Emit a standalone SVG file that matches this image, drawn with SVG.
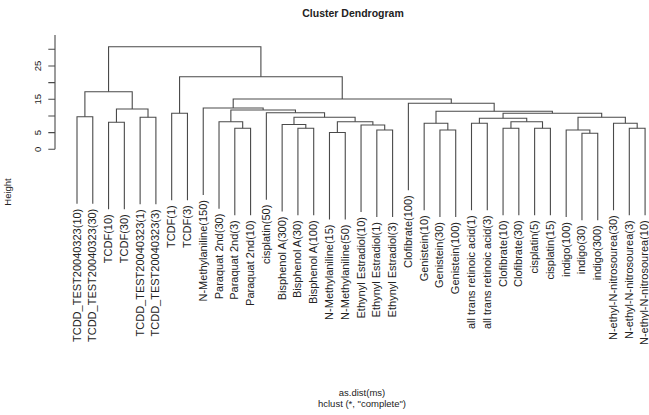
<svg xmlns="http://www.w3.org/2000/svg" width="649" height="415" viewBox="0 0 649 415">
<style>
.ln{fill:none;stroke:#4a4a4a;stroke-width:1.1}
.lb{font-family:"Liberation Sans",Arial,sans-serif;font-size:11px;fill:#222;text-anchor:end}
.ax{font-family:"Liberation Sans",Arial,sans-serif;font-size:9.5px;fill:#222;text-anchor:middle}
.tt{font-family:"Liberation Sans",Arial,sans-serif;font-size:10.5px;font-weight:bold;fill:#222;text-anchor:middle}
.sb{font-family:"Liberation Sans",Arial,sans-serif;font-size:9.5px;fill:#222;text-anchor:middle}
</style>
<rect width="649" height="415" fill="#fff"/>
<text class="tt" x="353" y="17">Cluster Dendrogram</text>
<g id="axis">
<path class="ln" d="M55 35 V149.3 M48.3 149.3 H55 M48.3 132.6 H55 M48.3 116 H55 M48.3 99.3 H55 M48.3 82.6 H55 M48.3 66 H55 M48.3 49.3 H55"/>
<text class="ax" transform="translate(41,149.3) rotate(-90)">0</text>
<text class="ax" transform="translate(41,132.6) rotate(-90)">5</text>
<text class="ax" transform="translate(41,99.3) rotate(-90)">15</text>
<text class="ax" transform="translate(41,66) rotate(-90)">25</text>
<text class="ax" transform="translate(11,192) rotate(-90)">Height</text>
</g>
<g id="connectors">
<path class="ln" d="M77 203.7 V116.7 H92.78 V203.7"/>
<path class="ln" d="M108.56 209.3 V122.3 H124.34 V209.3"/>
<path class="ln" d="M140.12 204.3 V117.3 H155.9 V204.3"/>
<path class="ln" d="M116.45 122.3 V109 H148.01 V117.3"/>
<path class="ln" d="M84.89 116.7 V91.7 H132.23 V109"/>
<path class="ln" d="M171.68 200.3 V113.3 H187.46 V200.3"/>
<path class="ln" d="M108.56 91.7 V46.7 H260.9 V76.7"/>
<path class="ln" d="M179.57 113.3 V76.7 H342.24 V99"/>
<path class="ln" d="M233.2 108 V99 H451.28 V103.3"/>
<path class="ln" d="M203.24 195 V108 H263.16 V110"/>
<path class="ln" d="M230.86 121.7 V110 H295.46 V112.7"/>
<path class="ln" d="M219.02 208.7 V121.7 H242.69 V128.3"/>
<path class="ln" d="M234.8 215.3 V128.3 H250.58 V215.3"/>
<path class="ln" d="M266.36 199.7 V112.7 H324.55 V117.3"/>
<path class="ln" d="M293.98 124.5 V117.3 H355.12 V121.7"/>
<path class="ln" d="M282.14 211.5 V124.5 H305.81 V128.3"/>
<path class="ln" d="M297.92 215.3 V128.3 H313.7 V215.3"/>
<path class="ln" d="M337.37 132.5 V121.7 H372.88 V125"/>
<path class="ln" d="M329.48 219.5 V132.5 H345.26 V219.5"/>
<path class="ln" d="M361.04 212 V125 H384.71 V130"/>
<path class="ln" d="M376.82 217 V130 H392.6 V217"/>
<path class="ln" d="M408.38 190.3 V103.3 H494.18 V111.3"/>
<path class="ln" d="M436 123.3 V111.3 H552.37 V113.3"/>
<path class="ln" d="M424.16 210.3 V123.3 H447.83 V130"/>
<path class="ln" d="M439.94 217 V130 H455.72 V217"/>
<path class="ln" d="M503.06 118.3 V113.3 H601.69 V117.3"/>
<path class="ln" d="M479.39 123.3 V118.3 H526.73 V121.7"/>
<path class="ln" d="M471.5 210.3 V123.3 H487.28 V210.3"/>
<path class="ln" d="M510.95 128.3 V121.7 H542.51 V128.3"/>
<path class="ln" d="M503.06 215.3 V128.3 H518.84 V215.3"/>
<path class="ln" d="M534.62 215.3 V128.3 H550.4 V215.3"/>
<path class="ln" d="M578.02 130 V117.3 H625.36 V123.3"/>
<path class="ln" d="M566.18 217 V130 H589.85 V133.3"/>
<path class="ln" d="M581.96 220.3 V133.3 H597.74 V220.3"/>
<path class="ln" d="M613.52 210.3 V123.3 H637.19 V128.3"/>
<path class="ln" d="M629.3 215.3 V128.3 H645.08 V215.3"/>
</g>
<g id="leaf1"><text class="lb" transform="translate(80.5,208.7) rotate(-90)">TCDD_TEST20040323(10)</text></g>
<g id="leaf2"><text class="lb" transform="translate(96.28,208.7) rotate(-90)">TCDD_TEST20040323(30)</text></g>
<g id="leaf3"><text class="lb" transform="translate(112.06,214.3) rotate(-90)">TCDF(10)</text></g>
<g id="leaf4"><text class="lb" transform="translate(127.84,214.3) rotate(-90)">TCDF(30)</text></g>
<g id="leaf5"><text class="lb" transform="translate(143.62,209.3) rotate(-90)">TCDD_TEST20040323(1)</text></g>
<g id="leaf6"><text class="lb" transform="translate(159.4,209.3) rotate(-90)">TCDD_TEST20040323(3)</text></g>
<g id="leaf7"><text class="lb" transform="translate(175.18,205.3) rotate(-90)">TCDF(1)</text></g>
<g id="leaf8"><text class="lb" transform="translate(190.96,205.3) rotate(-90)">TCDF(3)</text></g>
<g id="leaf9"><text class="lb" transform="translate(206.74,200) rotate(-90)">N-Methylaniline(150)</text></g>
<g id="leaf10"><text class="lb" transform="translate(222.52,213.7) rotate(-90)">Paraquat 2nd(30)</text></g>
<g id="leaf11"><text class="lb" transform="translate(238.3,220.3) rotate(-90)">Paraquat 2nd(3)</text></g>
<g id="leaf12"><text class="lb" transform="translate(254.08,220.3) rotate(-90)">Paraquat 2nd(10)</text></g>
<g id="leaf13"><text class="lb" transform="translate(269.86,204.7) rotate(-90)">cisplatin(50)</text></g>
<g id="leaf14"><text class="lb" transform="translate(285.64,216.5) rotate(-90)">Bisphenol A(300)</text></g>
<g id="leaf15"><text class="lb" transform="translate(301.42,220.3) rotate(-90)">Bisphenol A(30)</text></g>
<g id="leaf16"><text class="lb" transform="translate(317.2,220.3) rotate(-90)">Bisphenol A(100)</text></g>
<g id="leaf17"><text class="lb" transform="translate(332.98,224.5) rotate(-90)">N-Methylaniline(15)</text></g>
<g id="leaf18"><text class="lb" transform="translate(348.76,224.5) rotate(-90)">N-Methylaniline(50)</text></g>
<g id="leaf19"><text class="lb" transform="translate(364.54,217) rotate(-90)">Ethynyl Estradiol(10)</text></g>
<g id="leaf20"><text class="lb" transform="translate(380.32,222) rotate(-90)">Ethynyl Estradiol(1)</text></g>
<g id="leaf21"><text class="lb" transform="translate(396.1,222) rotate(-90)">Ethynyl Estradiol(3)</text></g>
<g id="leaf22"><text class="lb" transform="translate(411.88,195.3) rotate(-90)">Clofibrate(100)</text></g>
<g id="leaf23"><text class="lb" transform="translate(427.66,215.3) rotate(-90)">Genistein(10)</text></g>
<g id="leaf24"><text class="lb" transform="translate(443.44,222) rotate(-90)">Genistein(30)</text></g>
<g id="leaf25"><text class="lb" transform="translate(459.22,222) rotate(-90)">Genistein(100)</text></g>
<g id="leaf26"><text class="lb" transform="translate(475,215.3) rotate(-90)">all trans retinoic acid(1)</text></g>
<g id="leaf27"><text class="lb" transform="translate(490.78,215.3) rotate(-90)">all trans retinoic acid(3)</text></g>
<g id="leaf28"><text class="lb" transform="translate(506.56,220.3) rotate(-90)">Clofibrate(10)</text></g>
<g id="leaf29"><text class="lb" transform="translate(522.34,220.3) rotate(-90)">Clofibrate(30)</text></g>
<g id="leaf30"><text class="lb" transform="translate(538.12,220.3) rotate(-90)">cisplatin(5)</text></g>
<g id="leaf31"><text class="lb" transform="translate(553.9,220.3) rotate(-90)">cisplatin(15)</text></g>
<g id="leaf32"><text class="lb" transform="translate(569.68,222) rotate(-90)">indigo(100)</text></g>
<g id="leaf33"><text class="lb" transform="translate(585.46,225.3) rotate(-90)">indigo(30)</text></g>
<g id="leaf34"><text class="lb" transform="translate(601.24,225.3) rotate(-90)">indigo(300)</text></g>
<g id="leaf35"><text class="lb" transform="translate(617.02,215.3) rotate(-90)">N-ethyl-N-nitrosourea(30)</text></g>
<g id="leaf36"><text class="lb" transform="translate(632.8,220.3) rotate(-90)">N-ethyl-N-nitrosourea(3)</text></g>
<g id="leaf37"><text class="lb" transform="translate(647.6,220.3) rotate(-90)">N-ethyl-N-nitrosourea(10)</text></g>
<text class="sb" x="362" y="395.5">as.dist(ms)</text>
<text class="sb" x="362" y="406.5">hclust (*, "complete")</text>
</svg>
